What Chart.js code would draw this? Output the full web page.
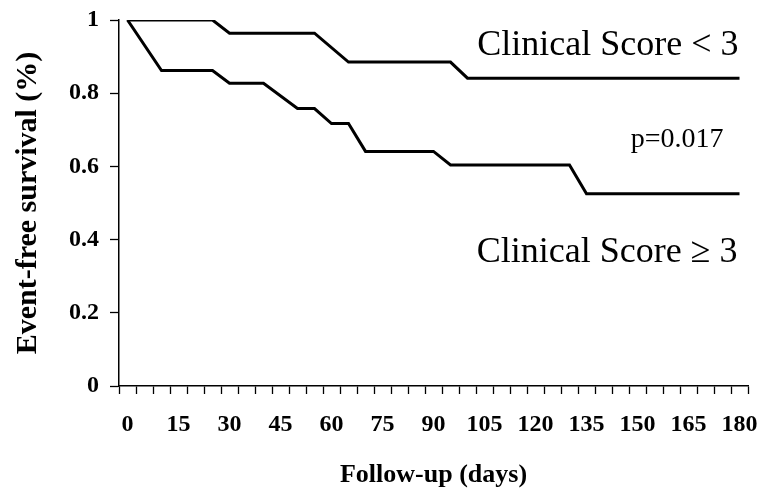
<!DOCTYPE html>
<html>
<head>
<meta charset="utf-8">
<script src="https://cdn.jsdelivr.net/npm/chart.js@4"></script>
<style>
  html, body { margin: 0; padding: 0; background: #fff; }
  #box { width: 763px; height: 493px; }
</style>
</head>
<body>
<div id="box"><canvas id="miGrafica"></canvas></div>
<script>
// follow-up days and survival
const dias_bajo = [0, 25, 30, 55, 65, 95, 100, 180];
const sobrevida_bajo = [1, 1, 0.964, 0.964, 0.885, 0.885, 0.841, 0.841];

const dias_alto = [0, 10, 25, 30, 40, 50, 55, 60, 65, 70, 90, 95, 130, 135, 180];
const sobrevida_alto = [1, 0.862, 0.862, 0.827, 0.827, 0.758, 0.758, 0.717, 0.717, 0.641, 0.641, 0.604, 0.604, 0.525, 0.525];

const etiquetas_x = ['0', '15', '30', '45', '60', '75', '90', '105', '120', '135', '150', '165', '180'];
const etiquetas_y = ['0', '0.2', '0.4', '0.6', '0.8', '1'];

const fuente = 'Liberation Serif';
const canva_grafica = document.getElementById('miGrafica').getContext('2d');

const puntos = (xs, ys) => xs.map((x, i) => ({x: x, y: ys[i]}));

// texts written inside the plot
const textos = {
    id: 'textos',
    afterDatasetsDraw(chart) {
        const ctx = chart.ctx;
        const sx = chart.scales.x, sy = chart.scales.y;
        ctx.save();
        ctx.fillStyle = '#000';
        ctx.textAlign = 'right';
        ctx.textBaseline = 'alphabetic';
        ctx.font = '36px "' + fuente + '"';
        ctx.fillText('Clinical Score < 3', sx.getPixelForValue(179.7), sy.getPixelForValue(0.904));
        ctx.fillText('Clinical Score \u2265 3', sx.getPixelForValue(179.4), sy.getPixelForValue(0.338));
        ctx.font = '28px "' + fuente + '"';
        ctx.fillText('p=0.017', sx.getPixelForValue(175.3), sy.getPixelForValue(0.6525));
        ctx.restore();
    }
};

const grafica = new Chart(canva_grafica, {
    type: 'scatter',
    data: {
        datasets: [
            {
                label: 'Clinical Score < 3',
                data: puntos(dias_bajo, sobrevida_bajo),
                showLine: true,
                borderColor: '#000',
                borderWidth: 3,
                pointRadius: 0,
                fill: false
            },
            {
                label: 'Clinical Score >= 3',
                data: puntos(dias_alto, sobrevida_alto),
                showLine: true,
                borderColor: '#000',
                borderWidth: 3,
                pointRadius: 0,
                fill: false
            }
        ]
    },
    options: {
        responsive: true,
        maintainAspectRatio: false,
        animation: false,
        layout: {padding: {left: 0, right: 15, top: 20, bottom: 0}},
        plugins: {legend: {display: false}, tooltip: {enabled: false}},
        scales: {
            x: {
                type: 'linear',
                min: -2.5,
                max: 182.5,
                afterBuildTicks: (escala) => {
                    const t = [];
                    for (let i = 0; i <= 37; i++) t.push({value: -2.5 + i * 5});
                    escala.ticks = t;
                },
                afterFit: (escala) => { escala.height = 107; escala.paddingLeft = 0; escala.paddingRight = 0; },
                grid: {drawOnChartArea: false, drawTicks: true, tickLength: 8, tickColor: '#000', tickWidth: 1.3},
                border: {display: true, color: '#000', width: 1.5},
                ticks: {
                    autoSkip: false,
                    maxRotation: 0,
                    padding: 16,
                    labelOffset: 8.5,
                    color: '#000',
                    font: {family: fuente, size: 24, weight: 'bold'},
                    callback: (v) => {
                        const d = String(Math.round(v + 2.5));
                        return etiquetas_x.includes(d) ? d : '';
                    }
                },
                title: {
                    display: true,
                    text: 'Follow-up (days)',
                    color: '#000',
                    font: {family: fuente, size: 26, weight: 'bold'},
                    padding: {top: 0, bottom: 2}
                }
            },
            y: {
                min: 0,
                max: 1,
                afterFit: (escala) => { escala.width = 119; escala.paddingTop = 0; escala.paddingBottom = 0; },
                grid: {drawOnChartArea: false, drawTicks: true, tickLength: 9, tickColor: '#000', tickWidth: 1.3},
                border: {display: true, color: '#000', width: 1.5},
                ticks: {
                    stepSize: 0.2,
                    padding: 11,
                    color: '#000',
                    font: {family: fuente, size: 24, weight: 'bold'},
                    callback: (v) => etiquetas_y[Math.round(v * 5)]
                },
                title: {
                    display: true,
                    text: 'Event-free survival (%)',
                    color: '#000',
                    font: {family: fuente, size: 30, weight: 'bold'},
                    padding: {top: 10, bottom: 0}
                }
            }
        }
    },
    plugins: [textos]
});
</script>
</body>
</html>
